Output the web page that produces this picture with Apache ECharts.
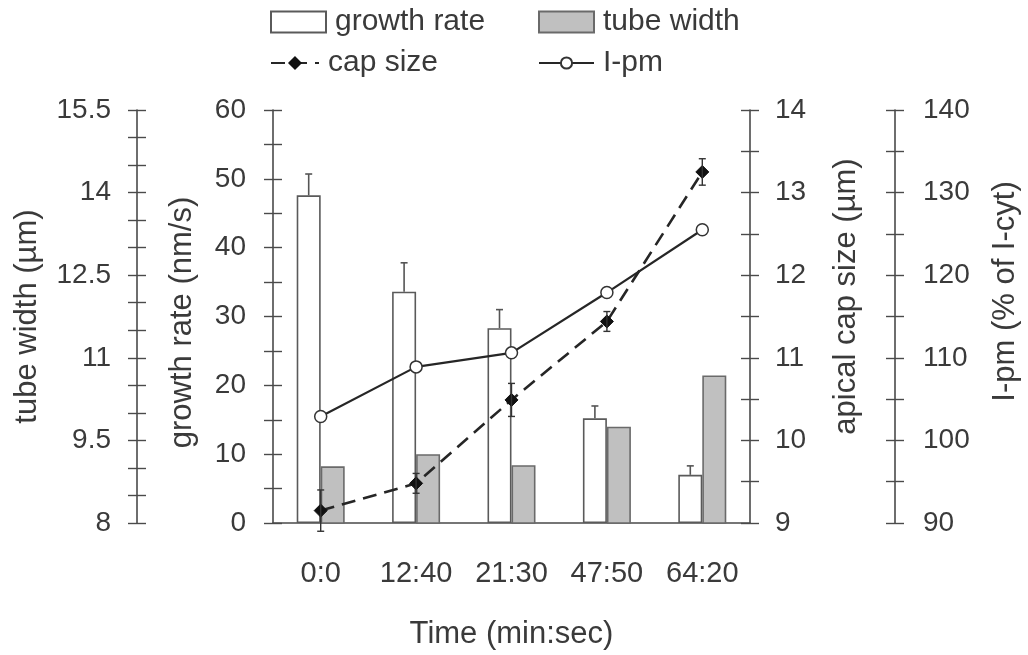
<!DOCTYPE html>
<html>
<head>
<meta charset="utf-8">
<script src="https://cdn.jsdelivr.net/npm/echarts@6/dist/echarts.min.js"></script>
<style>
  html, body { margin: 0; padding: 0; background: #fff; }
  #chart { width: 1028px; height: 655px; }
</style>
</head>
<body>
<div id="chart"></div>
<script>
// Time points and measured series
const timeLabels = ['0:0', '12:40', '21:30', '47:50', '64:20'];
const growthRate = [47.6, 33.6, 28.3, 15.2, 7.0];
const growthRateErr = [3.1, 4.2, 2.7, 1.8, 1.3];
const tubeWidth = [9.03, 9.25, 9.05, 9.75, 10.68];
const capSize = [9.15, 9.48, 10.49, 11.44, 13.25];
const capSizeErr = [0.25, 0.12, 0.2, 0.12, 0.16];
const ipm = [102.9, 108.9, 110.6, 117.9, 125.5];

const FONT = "'Liberation Sans', Arial, Helvetica, sans-serif";
const TXT = '#3a3a3a';
const AX = '#4a4a4a';
const BAR_W = 24;

const chart = echarts.init(document.getElementById('chart'), null, { renderer: 'canvas' });

// visible axis with ticks on the outer side
function valueAxis(o) {
  return {
    type: 'value',
    position: o.position,
    offset: o.offset,
    min: o.min, max: o.max, interval: o.interval,
    name: o.name,
    nameLocation: 'middle',
    nameGap: o.nameGap,
    nameRotate: 90,
    nameTextStyle: { fontFamily: FONT, fontSize: 31, color: TXT, padding: o.namePad },
    axisLine: { show: true, lineStyle: { color: AX, width: 1.6 } },
    axisTick: { show: true, inside: false, length: 9, lineStyle: { color: AX, width: 1.4 } },
    minorTick: { show: true, splitNumber: o.minor, length: 9, lineStyle: { color: AX, width: 1.4 } },
    axisLabel: { fontFamily: FONT, fontSize: 28, color: TXT, margin: o.margin },
    splitLine: { show: false },
    minorSplitLine: { show: false }
  };
}
// twin axis drawing the inner half of each tick so ticks cross the line
function tickTwin(o) {
  return {
    type: 'value',
    position: o.position,
    offset: o.offset,
    min: o.min, max: o.max, interval: o.interval,
    axisLine: { show: false },
    axisTick: { show: true, inside: true, length: 9, lineStyle: { color: AX, width: 1.4 } },
    minorTick: { show: true, splitNumber: o.minor, length: 9, lineStyle: { color: AX, width: 1.4 } },
    axisLabel: { show: false },
    splitLine: { show: false }
  };
}

const axGrowth = { position: 'left', offset: 0, min: 0, max: 60, interval: 10, minor: 2,
  name: 'growth rate (nm/s)', nameGap: 75, margin: 27, namePad: [0, 12, 0, 0] };
const axTube = { position: 'left', offset: 136, min: 8, max: 15.5, interval: 1.5, minor: 3,
  name: 'tube width (\u00b5m)', nameGap: 94, margin: 26, namePad: 0 };
const axCap = { position: 'right', offset: 0, min: 9, max: 14, interval: 1, minor: 2,
  name: 'apical cap size (\u00b5m)', nameGap: 81, margin: 25, namePad: [0, 0, 0, 40] };
const axIpm = { position: 'right', offset: 145, min: 90, max: 140, interval: 10, minor: 2,
  name: 'I-pm (% of I-cyt)', nameGap: 95, margin: 28, namePad: [0, 0, 0, 50] };

function legendBox(name, left, top, extra) {
  return Object.assign({
    left: left, top: top, padding: 0,
    itemWidth: 55, itemHeight: 21,
    textStyle: { fontFamily: FONT, fontSize: 30, color: TXT, padding: [0, 0, 0, 4] },
    selectedMode: false,
    data: [name]
  }, extra || {});
}

const option = {
  backgroundColor: '#fff',
  animation: false,
  grid: { left: 273, right: 278, top: 110, bottom: 130, containLabel: false },
  legend: [
    legendBox('growth rate', 270, 7, { icon: 'rect' }),
    legendBox('tube width', 538, 7, { icon: 'rect' }),
    legendBox('cap size', 270, 48, { itemWidth: 48, itemHeight: 14 }),
    legendBox('I-pm', 538, 48, { itemWidth: 55, itemHeight: 14 })
  ],
  xAxis: {
    type: 'category',
    data: timeLabels,
    name: 'Time (min:sec)',
    nameLocation: 'middle',
    nameGap: 96,
    nameTextStyle: { fontFamily: FONT, fontSize: 31, color: TXT },
    axisLine: { show: true, lineStyle: { color: AX, width: 1.6 } },
    axisTick: { show: false },
    axisLabel: { fontFamily: FONT, fontSize: 29, color: TXT, margin: 36 },
    splitLine: { show: false }
  },
  yAxis: [
    valueAxis(axGrowth), valueAxis(axTube), valueAxis(axCap), valueAxis(axIpm),
    tickTwin(axGrowth), tickTwin(axTube), tickTwin(axCap), tickTwin(axIpm)
  ],
  series: [
    {
      name: 'growth rate', type: 'bar', yAxisIndex: 0,
      barWidth: BAR_W, barGap: '0%',
      data: growthRate,
      itemStyle: { color: '#fff', borderColor: '#5a5a5a', borderWidth: 1.6 },
      z: 2
    },
    {
      name: 'tube width', type: 'bar', yAxisIndex: 1,
      barWidth: BAR_W, barGap: '0%',
      data: tubeWidth,
      itemStyle: { color: '#c0c0c0', borderColor: '#6a6a6a', borderWidth: 1.6 },
      z: 2
    },
    {
      // upper error whiskers on the growth-rate bars
      type: 'custom', yAxisIndex: 0, z: 3,
      data: growthRate.map((v, i) => [i, v, growthRateErr[i]]),
      encode: { x: 0, y: 1 },
      renderItem: function (params, api) {
        const i = api.value(0), v = api.value(1), e = api.value(2);
        const p0 = api.coord([i, v]);
        const p1 = api.coord([i, v + e]);
        const x = p0[0] - BAR_W / 2;
        const st = { stroke: '#555', lineWidth: 1.6 };
        return { type: 'group', children: [
          { type: 'line', shape: { x1: x, y1: p0[1], x2: x, y2: p1[1] }, style: st },
          { type: 'line', shape: { x1: x - 3.5, y1: p1[1], x2: x + 3.5, y2: p1[1] }, style: st }
        ] };
      }
    },
    {
      name: 'cap size', type: 'line', yAxisIndex: 2,
      data: capSize,
      symbol: 'diamond', symbolSize: 13,
      lineStyle: { color: '#262626', width: 2.6, type: [14, 8] },
      itemStyle: { color: '#111', borderColor: '#111', borderWidth: 1 },
      z: 5
    },
    {
      // symmetric error whiskers on cap size
      type: 'custom', yAxisIndex: 2, z: 6,
      data: capSize.map((v, i) => [i, v, capSizeErr[i]]),
      encode: { x: 0, y: 1 },
      renderItem: function (params, api) {
        const i = api.value(0), v = api.value(1), e = api.value(2);
        const pt = api.coord([i, v + e]);
        const pb = api.coord([i, v - e]);
        const x = pt[0];
        const st = { stroke: '#333', lineWidth: 1.4 };
        return { type: 'group', children: [
          { type: 'line', shape: { x1: x, y1: pt[1], x2: x, y2: pb[1] }, style: st },
          { type: 'line', shape: { x1: x - 3.5, y1: pt[1], x2: x + 3.5, y2: pt[1] }, style: st },
          { type: 'line', shape: { x1: x - 3.5, y1: pb[1], x2: x + 3.5, y2: pb[1] }, style: st }
        ] };
      }
    },
    {
      name: 'I-pm', type: 'line', yAxisIndex: 3,
      data: ipm,
      symbol: 'circle', symbolSize: 12,
      lineStyle: { color: '#262626', width: 2.2 },
      itemStyle: { color: '#fff', borderColor: '#333', borderWidth: 1.5 },
      z: 7
    }
  ]
};

chart.setOption(option);
</script>
</body>
</html>
